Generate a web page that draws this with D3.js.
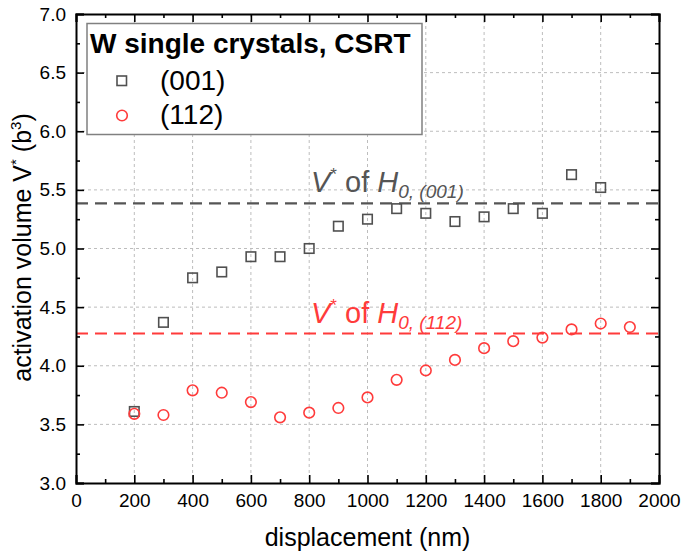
<!DOCTYPE html>
<html><head><meta charset="utf-8">
<script src="https://cdn.jsdelivr.net/npm/d3@7"></script>
<style>body{margin:0;background:#fff}svg{font-family:"Liberation Sans",Arial,sans-serif}</style>
</head><body><svg id="c" width="683" height="554"></svg>
<script>
const xTicks = [0,200,400,600,800,1000,1200,1400,1600,1800,2000];
const yTicks = [3.0,3.5,4.0,4.5,5.0,5.5,6.0,6.5,7.0];
const x001 = [200,300,400,500,600,700,800,900,1000,1100,1200,1300,1400,1500,1600,1700,1800];
const v001 = [3.61,4.37,4.75,4.80,4.93,4.93,5.00,5.19,5.25,5.34,5.30,5.23,5.27,5.34,5.30,5.63,5.52];
const x112 = [200,300,400,500,600,700,800,900,1000,1100,1200,1300,1400,1500,1600,1700,1800,1900];
const v112 = [3.59,3.58,3.79,3.77,3.69,3.56,3.60,3.64,3.73,3.88,3.96,4.05,4.15,4.21,4.24,4.31,4.36,4.33];
const h001 = 5.385, h112 = 4.275;
const grey = "#505050", red = "#ff3b3b";

const svg = d3.select("#c");
const L=76, R=659, T=14, B=483;
const x = d3.scaleLinear().domain([0,2000]).range([L,R]);
const y = d3.scaleLinear().domain([3,7]).range([B,T]);

// grid
const g = svg.append("g");
g.selectAll(".gx").data(xTicks.slice(1,-1)).join("line")
 .attr("x1",d=>x(d)).attr("x2",d=>x(d)).attr("y1",T).attr("y2",B)
 .attr("stroke","#bdbdbd").attr("stroke-dasharray","3,3").attr("stroke-width",1);
g.selectAll(".gy").data(yTicks.slice(1,-1)).join("line")
 .attr("y1",d=>y(d)).attr("y2",d=>y(d)).attr("x1",L).attr("x2",R)
 .attr("stroke","#bdbdbd").attr("stroke-dasharray","3,3").attr("stroke-width",1);

// reference lines
svg.append("line").attr("x1",L).attr("x2",R).attr("y1",y(h001)).attr("y2",y(h001))
 .attr("stroke","#555").attr("stroke-width",2.2).attr("stroke-dasharray","12,7");
svg.append("line").attr("x1",L).attr("x2",R).attr("y1",y(h112)).attr("y2",y(h112))
 .attr("stroke",red).attr("stroke-width",2.2).attr("stroke-dasharray","12,7");

// axes
const xMinor = d3.range(100,2000,200);
const yMinor = d3.range(3.25,7,0.5);
function axes(){
  const bx = d3.axisBottom(x).tickValues(xTicks).tickSize(-8).tickPadding(11).tickFormat(d3.format("d"));
  const tx = d3.axisTop(x).tickValues(xTicks).tickSize(-8).tickFormat("");
  const ly = d3.axisLeft(y).tickValues(yTicks).tickSize(-8).tickPadding(10).tickFormat(d3.format(".1f"));
  const ry = d3.axisRight(y).tickValues(yTicks).tickSize(-8).tickFormat("");
  const style = s=>{s.select(".domain").attr("stroke","#000").attr("stroke-width",2);
    s.selectAll(".tick line").attr("stroke","#000").attr("stroke-width",1.6);
    s.selectAll("text").attr("font-size",19).attr("fill","#000").attr("font-family","Liberation Sans, Arial");};
  svg.append("g").attr("transform",`translate(0,${B})`).call(bx).call(style);
  svg.append("g").attr("transform",`translate(0,${T})`).call(tx).call(style);
  svg.append("g").attr("transform",`translate(${L},0)`).call(ly).call(style);
  svg.append("g").attr("transform",`translate(${R},0)`).call(ry).call(style);
  const mn = (sc,vals,tr,ax)=>svg.append("g").attr("transform",tr).call(ax(sc).tickValues(vals).tickSize(-4).tickFormat(""))
    .call(s=>{s.select(".domain").remove();s.selectAll(".tick line").attr("stroke","#000").attr("stroke-width",1.6);});
  mn(x,xMinor,`translate(0,${B})`,d3.axisBottom);
  mn(x,xMinor,`translate(0,${T})`,d3.axisTop);
  mn(y,yMinor,`translate(${L},0)`,d3.axisLeft);
  mn(y,yMinor,`translate(${R},0)`,d3.axisRight);
}
axes();

// markers
const s=9.5;
svg.append("g").selectAll("rect").data(x001.map((d,i)=>[d,v001[i]])).join("rect")
 .attr("x",d=>x(d[0])-s/2).attr("y",d=>y(d[1])-s/2).attr("width",s).attr("height",s)
 .attr("fill","none").attr("stroke",grey).attr("stroke-width",1.6);
svg.append("g").selectAll("circle").data(x112.map((d,i)=>[d,v112[i]])).join("circle")
 .attr("cx",d=>x(d[0])).attr("cy",d=>y(d[1])).attr("r",5.3)
 .attr("fill","none").attr("stroke",red).attr("stroke-width",1.6);

// annotations
function annot(yb,color,sub){
  const t = svg.append("text").attr("x",311).attr("y",yb).attr("fill",color).attr("font-size",29);
  t.append("tspan").attr("font-style","italic").text("V");
  t.append("tspan").attr("font-size",17).attr("dy",-12).text("*");
  t.append("tspan").attr("dy",12).text(" of ");
  t.append("tspan").attr("font-style","italic").text("H");
  t.append("tspan").attr("font-style","italic").attr("font-size",19).attr("dy",6).text(sub);
}
annot(192,"#555","0, (001)");
annot(323,red,"0, (112)");

// legend
svg.append("rect").attr("x",87).attr("y",23.5).attr("width",335).attr("height",111)
 .attr("fill","#fff").attr("stroke","#808080").attr("stroke-width",1.5);
svg.append("text").attr("x",90).attr("y",53).attr("font-size",28).attr("font-weight","bold").text("W single crystals, CSRT");
svg.append("rect").attr("x",117).attr("y",76).attr("width",9.5).attr("height",9.5).attr("fill","none").attr("stroke",grey).attr("stroke-width",1.6);
svg.append("circle").attr("cx",122).attr("cy",115.5).attr("r",5.3).attr("fill","none").attr("stroke",red).attr("stroke-width",1.6);
svg.append("text").attr("x",160).attr("y",90).attr("font-size",28).text("(001)");
svg.append("text").attr("x",160).attr("y",124).attr("font-size",28).text("(112)");

// axis titles
svg.append("text").attr("x",x(1000)).attr("y",546).attr("text-anchor","middle").attr("font-size",25).text("displacement (nm)");
const yt = svg.append("text").attr("transform",`translate(31,${y(5)-1}) rotate(-90)`).attr("text-anchor","middle").attr("font-size",25);
yt.append("tspan").text("activation volume V");
yt.append("tspan").attr("font-size",15).attr("dy",-10).text("*");
yt.append("tspan").attr("dy",10).text(" (b");
yt.append("tspan").attr("font-size",15).attr("dy",-10).text("3");
yt.append("tspan").attr("dy",10).text(")");
</script></body></html>
